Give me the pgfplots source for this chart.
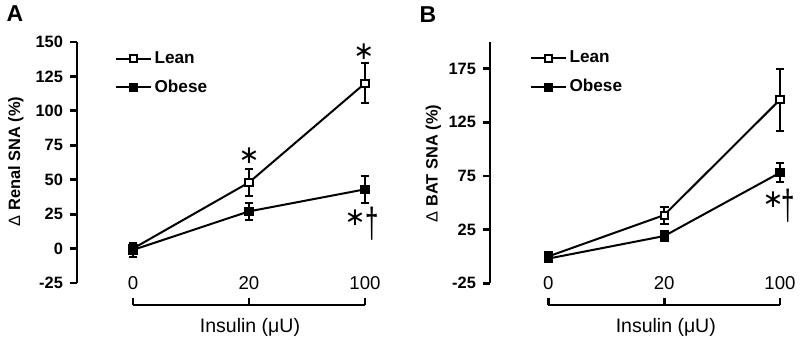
\documentclass[border=0pt]{standalone}
\usepackage{pgfplots}
\pgfplotsset{compat=1.18}
\usepackage{fontspec}
\setmainfont{Liberation Sans}
\newfontfamily\dejavu{DejaVu Sans}
\begin{document}
\begin{tikzpicture}
\path[use as bounding box] (0pt,0pt) rectangle (400pt,170pt);
\pgfplotsset{
  panel/.style={
    scale only axis,
    clip=false,
    separate axis lines,
    axis x line=bottom,
    axis y line=left,
    axis line style={line width=1.4pt, -},
    tick align=inside,
    major tick length=3.5pt,
    tick style={line width=1.4pt, black},
    major y tick style={xshift=-3.5pt},
    xmin=0, xmax=2,
    xtick={0,1,2},
    xticklabels={0,20,100},
    /pgf/number format/assume math mode=true,
    yticklabel style={font=\bfseries\fontsize{8.2}{9}\selectfont, xshift=-3.5pt},
    xticklabel style={font=\fontsize{9.3}{10}\selectfont, anchor=base, yshift=7.5pt},
    legend style={draw=none, fill=none, font=\bfseries\fontsize{8.6}{10}\selectfont, row sep=3.8pt, legend cell align=left, inner sep=0pt, nodes={inner sep=1.5pt}},
    error bars/error bar style={line width=1pt, black},
    error bars/error mark options={rotate=90, mark size=2.2pt, line width=1pt, black},
  },
  lean/.style={black, line width=1pt, mark=square*, mark size=1.8pt, mark options={fill=white, draw=black, solid}},
  obese/.style={black, line width=1pt, mark=square*, mark size=1.8pt, mark options={fill=black, draw=black, solid}},
}
\newcommand{\sig}{\dejavu\fontsize{12.5}{12.5}\selectfont ∗}
\newcommand{\dg}{\scalebox{1}[1.75]{\fontsize{12}{12}\selectfont †}}
% ---------- Panel A ----------
\begin{axis}[panel,
  at={(66.5pt,28.5pt)}, anchor=south west,
  width=116pt, height=120.5pt,
  ymin=-25, ymax=150,
  ytick={-25,0,25,50,75,100,125,150},
  axis x line shift=11pt,
  axis y line shift=28pt,
  legend style={at={(axis cs:-0.155,145.8)}, anchor=north west},
]
\addplot[lean, error bars/.cd, y dir=both, y explicit]
  coordinates {(0,0) +- (0,4) (1,48) +- (0,10) (2,120) +- (0,14.5)};
\addlegendentry{Lean}
\addplot[obese, error bars/.cd, y dir=both, y explicit]
  coordinates {(0,-1) +- (0,5) (1,27) +- (0,6) (2,43) +- (0,9.7)};
\addlegendentry{Obese}
\node[inner sep=0pt] at (axis cs:1,67.5) {\sig};
\node[inner sep=0pt] at (axis cs:1.99,143) {\sig};
\node[inner sep=0pt] at (axis cs:1.914,22.2) {\sig};
\node[inner sep=0pt] at (axis cs:2.066,17.9) {\dg};
\end{axis}
% ---------- Panel B ----------
\begin{axis}[panel,
  at={(274.15pt,28.35pt)}, anchor=south west,
  width=115.85pt, height=120.8pt,
  ymin=-25, ymax=200,
  ytick={-25,25,75,125,175},
  axis x line shift=10.85pt,
  axis y line shift=29.15pt,
  legend style={at={(axis cs:-0.158,194.5)}, anchor=north west},
]
\addplot[lean, error bars/.cd, y dir=both, y explicit]
  coordinates {(0,0) +- (0,4) (1,38.5) +- (0,8) (2,146) +- (0,29)};
\addlegendentry{Lean}
\addplot[obese, error bars/.cd, y dir=both, y explicit]
  coordinates {(0,-2) +- (0,3) (1,19) +- (0,4.5) (2,78) +- (0,9)};
\addlegendentry{Obese}
\node[inner sep=0pt] at (axis cs:1.94,52.9) {\sig};
\node[inner sep=0pt] at (axis cs:2.07,47.3) {\dg};
\end{axis}
% ---------- labels ----------
\node[font=\bfseries\fontsize{11.5}{13}\selectfont] at (7.5pt,163pt) {A};
\node[font=\bfseries\fontsize{11.5}{13}\selectfont] at (214pt,162.5pt) {B};
\node[rotate=90, font=\bfseries\fontsize{8.2}{9}\selectfont] at (8pt,89.2pt) {{\mdseries Δ} Renal SNA (\%)};
\node[rotate=90, font=\bfseries\fontsize{8.2}{9}\selectfont] at (216.7pt,88.3pt) {{\mdseries Δ} BAT SNA (\%)};
\node[anchor=base, font=\fontsize{9.75}{11}\selectfont] at (125pt,3.5pt) {Insulin (μU)};
\node[anchor=base, font=\fontsize{9.75}{11}\selectfont] at (332.9pt,3.5pt) {Insulin (μU)};
\end{tikzpicture}
\end{document}
